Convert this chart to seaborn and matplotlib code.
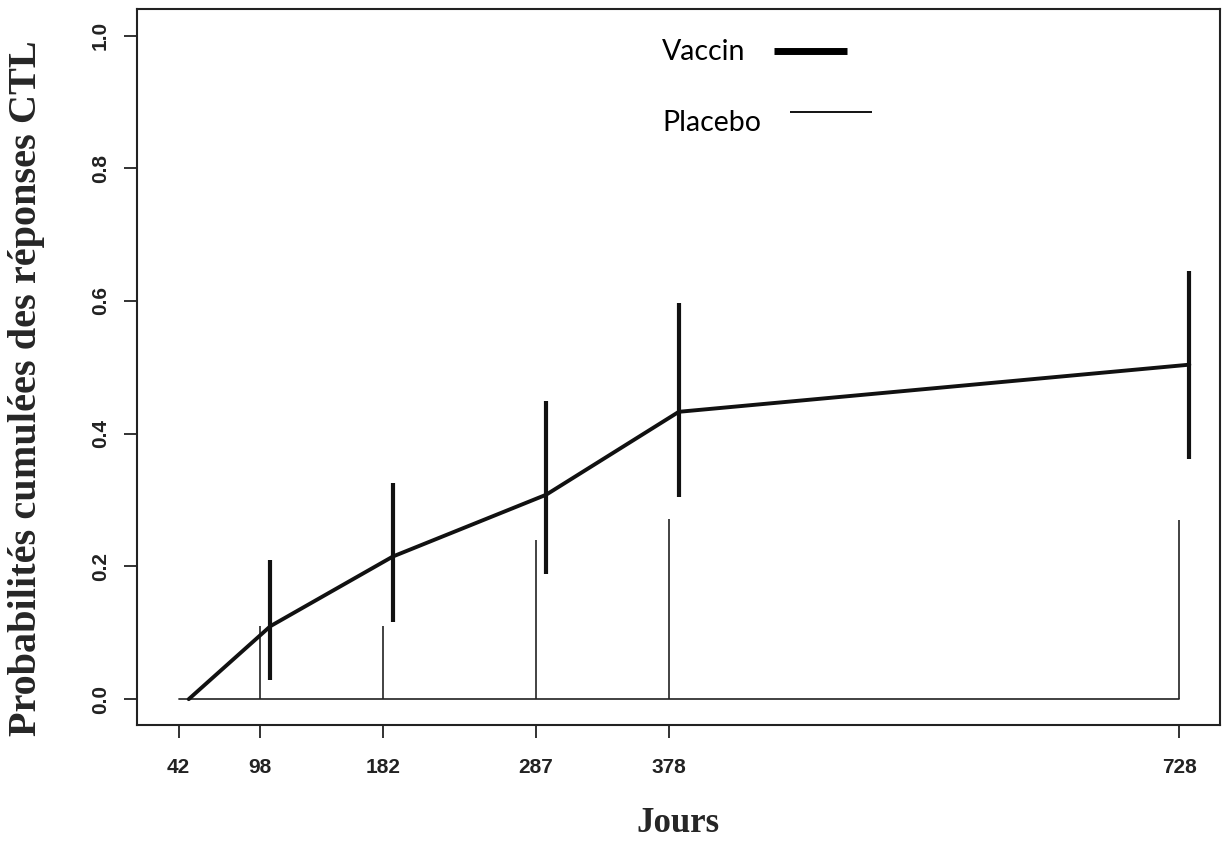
import numpy as np
import pandas as pd
import matplotlib
matplotlib.use("Agg")
import matplotlib.pyplot as plt
import seaborn as sns

# Study visit days and cumulative probabilities of CTL responses
days = [42, 98, 182, 287, 378, 728]
vaccin_prob = [0.0, 0.11, 0.215, 0.308, 0.433, 0.504]
vaccin_low = [np.nan, 0.029, 0.116, 0.188, 0.304, 0.362]
vaccin_high = [np.nan, 0.209, 0.325, 0.450, 0.597, 0.645]
placebo_prob = [0.0, 0.0, 0.0, 0.0, 0.0, 0.0]
placebo_high = [np.nan, 0.11, 0.11, 0.24, 0.272, 0.27]
y_ticks = [0.0, 0.2, 0.4, 0.6, 0.8, 1.0]

# small horizontal offset so the vaccine bars do not overlap the placebo ones
vaccin_shift = 7

sns.set_theme(style="white")
plt.rcParams["font.family"] = ["Liberation Sans", "DejaVu Sans"]

fig = plt.figure(figsize=(12.24, 8.47), dpi=100)
ax = fig.add_axes([0.1119, 0.144, 0.8848, 0.8454])

vac = pd.DataFrame({"jour": np.array(days) + vaccin_shift, "prob": vaccin_prob,
                    "low": vaccin_low, "high": vaccin_high})
pla = pd.DataFrame({"jour": days, "prob": placebo_prob, "high": placebo_high})

# placebo: flat curve at zero with upper confidence limits
sns.lineplot(data=pla, x="jour", y="prob", ax=ax, color="#333333", lw=1.3)
ax.vlines(pla["jour"], pla["prob"], pla["high"], color="#222222", lw=1.2)

# vaccine: cumulative curve with confidence intervals
sns.lineplot(data=vac, x="jour", y="prob", ax=ax, color="#111111", lw=2.8)
ax.vlines(vac["jour"], vac["low"], vac["high"], color="#111111", lw=3.0)

ax.set_xlim(13.5, 756)
ax.set_ylim(-0.039, 1.04)
ax.set_xticks(days)
ax.set_xticklabels([str(d) for d in days])
ax.set_yticks(y_ticks)
ax.set_yticklabels([f"{v:.1f}" for v in y_ticks], rotation=90, va="center")
ax.tick_params(axis="both", direction="out", length=9.5, width=1.3, color="#222222",
               labelsize=15, labelcolor="#222222", bottom=True, left=True)
ax.tick_params(axis="x", pad=14)
ax.tick_params(axis="y", pad=10)
for lab in ax.get_xticklabels() + ax.get_yticklabels():
    lab.set_fontweight("bold")

for s in ax.spines.values():
    s.set_visible(True)
    s.set_color("#222222")
    s.set_linewidth(1.5)

ax.set_xlabel("Jours", family=["Liberation Serif", "DejaVu Serif"], fontweight="bold",
              fontsize=25, labelpad=22)
ax.set_ylabel("Probabilités cumulées des réponses CTL",
              family=["Liberation Serif", "DejaVu Serif"], fontweight="bold",
              fontsize=29)
ax.yaxis.set_label_coords(-0.085, 0.47)

# legend drawn as text with line samples to the right
ax.text(0.4848, 0.9398, "Vaccin", transform=ax.transAxes, family=["Lato", "DejaVu Sans"],
        fontsize=20.5, va="center", ha="left", color="black")
ax.plot([0.5882, 0.6556], [0.9418, 0.9418], transform=ax.transAxes, color="black",
        lw=5, solid_capstyle="butt")
ax.text(0.4848, 0.8410, "Placebo", transform=ax.transAxes, family=["Lato", "DejaVu Sans"],
        fontsize=20.5, va="center", ha="left", color="black")
ax.plot([0.6029, 0.6787], [0.8563, 0.8563], transform=ax.transAxes, color="black",
        lw=1.3, solid_capstyle="butt")

fig.savefig("out.png", dpi=100)
